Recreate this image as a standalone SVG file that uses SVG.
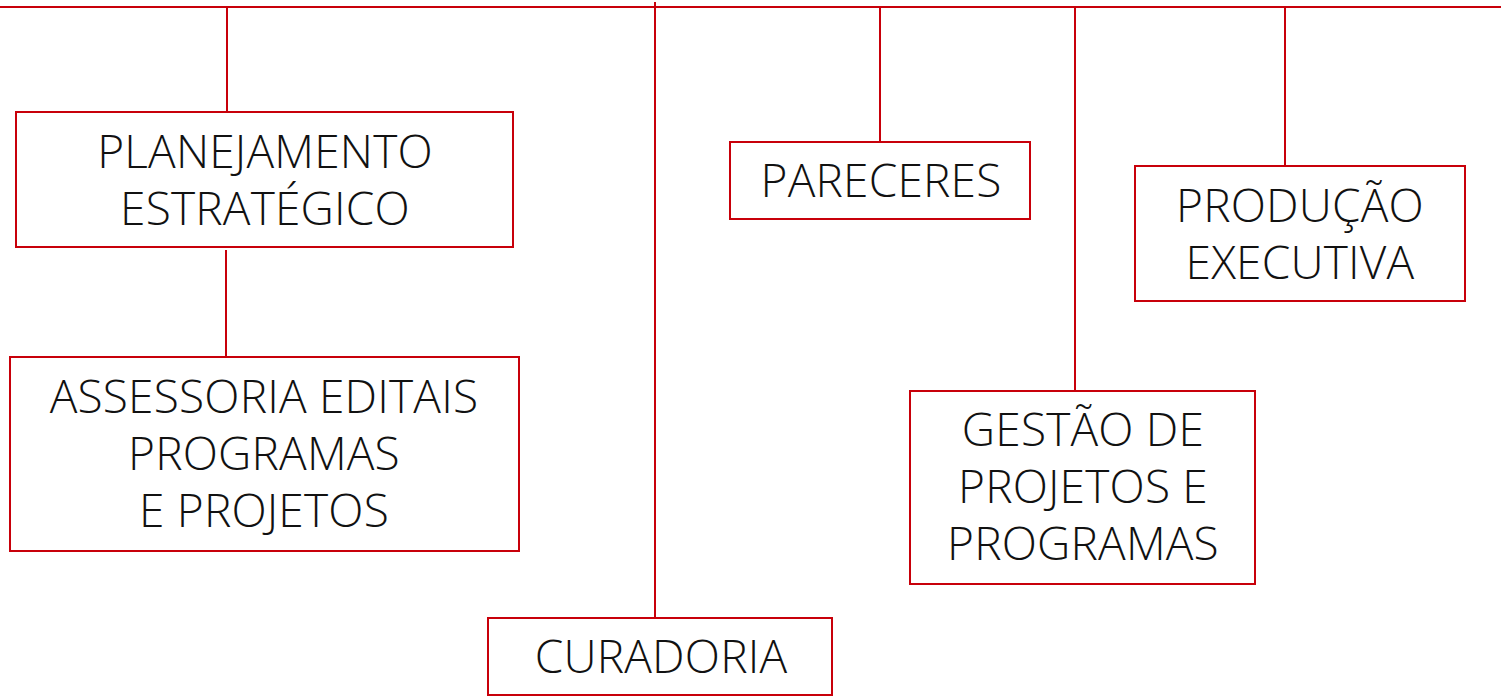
<svg xmlns="http://www.w3.org/2000/svg" width="1506" height="696" viewBox="0 0 1506 696">
<style>
.box{fill:#fff;stroke:#c8000a;stroke-width:2}
.ln{stroke:#c8000a;stroke-width:2;fill:none}
text{font-family:"Open Sans","Noto Sans",sans-serif;font-weight:300;font-size:46px;fill:#111;text-anchor:middle;letter-spacing:0.2px}
</style>
<rect width="1506" height="696" fill="#fff"/>
<g id="connectors">
<line class="ln" x1="0" y1="7" x2="1501" y2="7"/>
<line class="ln" x1="227" y1="7" x2="227" y2="112"/>
<line class="ln" x1="226" y1="250" x2="226" y2="356"/>
<line class="ln" x1="655" y1="2" x2="655" y2="618"/>
<line class="ln" x1="880" y1="7" x2="880" y2="142"/>
<line class="ln" x1="1075" y1="7" x2="1075" y2="391"/>
<line class="ln" x1="1285" y1="7" x2="1285" y2="166"/>
</g>
<g id="planejamento">
<rect class="box" x="16" y="112" width="497" height="135"/>
<text x="265" y="168">PLANEJAMENTO</text>
<text x="265" y="225">ESTRATÉGICO</text>
</g>
<g id="assessoria">
<rect class="box" x="10" y="357" width="509" height="194"/>
<text x="264" y="413">ASSESSORIA EDITAIS</text>
<text x="264" y="470">PROGRAMAS</text>
<text x="264" y="527">E PROJETOS</text>
</g>
<g id="curadoria">
<rect class="box" x="488" y="618" width="344" height="77"/>
<text x="661" y="673">CURADORIA</text>
</g>
<g id="pareceres">
<rect class="box" x="730" y="142" width="300" height="77"/>
<text x="881" y="197">PARECERES</text>
</g>
<g id="gestao">
<rect class="box" x="910" y="391" width="345" height="193"/>
<text x="1083" y="446">GESTÃO DE</text>
<text x="1083" y="503">PROJETOS E</text>
<text x="1083" y="560">PROGRAMAS</text>
</g>
<g id="producao">
<rect class="box" x="1135" y="166" width="330" height="135"/>
<text x="1300" y="222">PRODUÇÃO</text>
<text x="1300" y="279">EXECUTIVA</text>
</g>
</svg>
